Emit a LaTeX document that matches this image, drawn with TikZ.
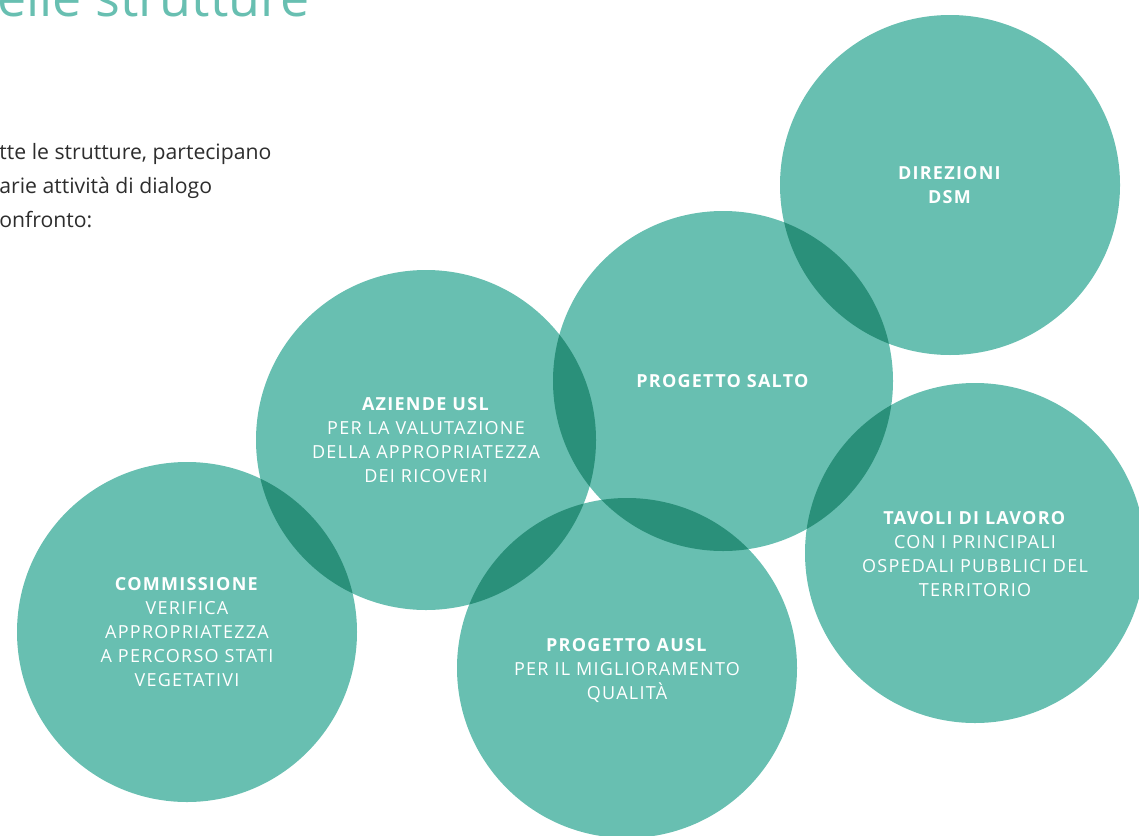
\documentclass[tikz,border=0pt]{standalone}
\usepackage{fontspec}
\setmainfont{Open Sans}
\definecolor{bubble}{RGB}{104,191,177}
\definecolor{bubbledark}{RGB}{42,144,122}
\definecolor{bodytext}{RGB}{45,45,45}
\newcommand{\hd}[1]{\textbf{#1}}
\tikzset{
  bubbletext/.style={text=white, align=center, inner sep=0pt,
    font=\fontsize{9}{12}\selectfont\addfontfeatures{LetterSpace=7}},
}

\begin{document}
\begin{tikzpicture}[x=0.5pt,y=-0.5pt]
  \useasboundingbox (0,0) rectangle (1139,835);
  \clip (0,0) rectangle (1139,835);

  % Centres of the circles
  \coordinate (comm) at (187,632);
  \coordinate (azi) at (426,440);
  \coordinate (ausl) at (627,668);
  \coordinate (salto) at (723,381);
  \coordinate (dsm) at (950,185);
  \coordinate (tavoli) at (975,553);

  % Draw the circles
  \fill[bubble] (comm) circle (170);
  \fill[bubble] (azi) circle (170);
  \fill[bubble] (ausl) circle (170);
  \fill[bubble] (salto) circle (170);
  \fill[bubble] (dsm) circle (170);
  \fill[bubble] (tavoli) circle (170);

  % Darker overlaps
  \begin{scope}
    \clip (comm) circle (170);
    \fill[bubbledark] (azi) circle (170);
  \end{scope}
  \begin{scope}
    \clip (azi) circle (170);
    \fill[bubbledark] (salto) circle (170);
    \fill[bubbledark] (ausl) circle (170);
  \end{scope}
  \begin{scope}
    \clip (salto) circle (170);
    \fill[bubbledark] (ausl) circle (170);
    \fill[bubbledark] (dsm) circle (170);
    \fill[bubbledark] (tavoli) circle (170);
  \end{scope}

  % Heading and intro
  \node[anchor=base west, inner sep=0pt, text=bubble,
    font=\fontsize{26}{26}\selectfont] (title) at (-3,17) {elle strutture};
  \node[anchor=north west, inner sep=0pt, align=left, text=bodytext,
    font=\fontsize{10.6}{17}\selectfont] (intro) at (-1,143)
    {tte le strutture, partecipano\\arie attività di dialogo\\onfronto:};

  % Texts in the circles
  \node[bubbletext] (commtext) at (comm)
    {\hd{COMMISSIONE}\\VERIFICA\\APPROPRIATEZZA\\A PERCORSO STATI\\VEGETATIVI};
  \node[bubbletext] (azitext) at (azi)
    {\hd{AZIENDE USL}\\PER LA VALUTAZIONE\\DELLA APPROPRIATEZZA\\DEI RICOVERI};
  \node[bubbletext] (ausltext) at (627,670)
    {\hd{PROGETTO AUSL}\\PER IL MIGLIORAMENTO\\QUALITÀ};
  \node[bubbletext] (saltotext) at (salto) {\hd{PROGETTO SALTO}};
  \node[bubbletext] (dsmtext) at (dsm) {\hd{DIREZIONI}\\\hd{DSM}};
  \node[bubbletext] (tavolitext) at (975,554)
    {\hd{TAVOLI DI LAVORO}\\CON I PRINCIPALI\\OSPEDALI PUBBLICI DEL\\TERRITORIO};
\end{tikzpicture}
\end{document}
